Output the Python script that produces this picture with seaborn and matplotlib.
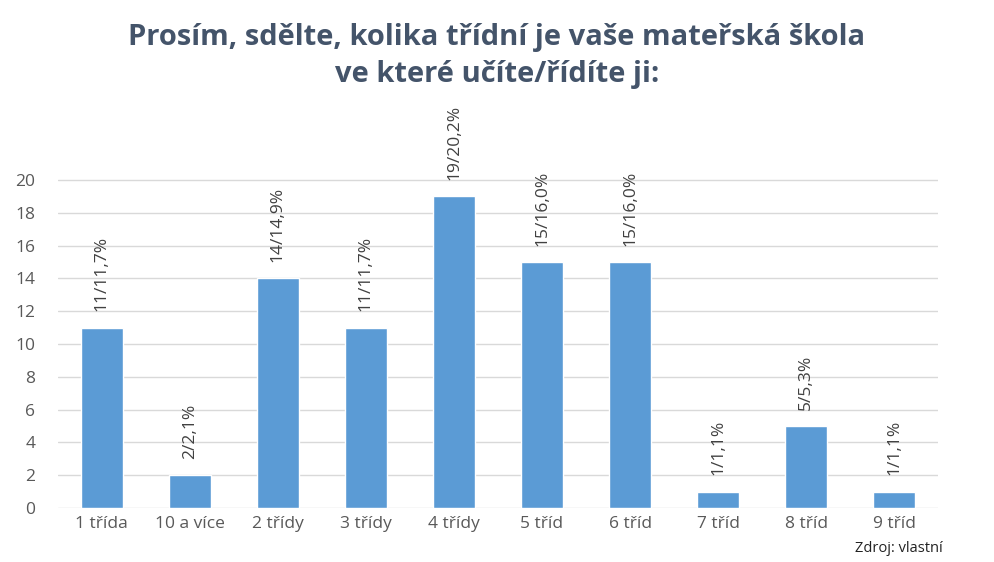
import matplotlib
matplotlib.use("Agg")
import matplotlib.pyplot as plt
import seaborn as sns
import pandas as pd

# data
categories = ["1 třída", "10 a více", "2 třídy", "3 třídy", "4 třídy",
              "5 tříd", "6 tříd", "7 tříd", "8 tříd", "9 tříd"]
counts = [11, 2, 14, 11, 19, 15, 15, 1, 5, 1]
labels = ["11/11,7%", "2/2,1%", "14/14,9%", "11/11,7%", "19/20,2%",
          "15/16,0%", "15/16,0%", "1/1,1%", "5/5,3%", "1/1,1%"]

df = pd.DataFrame({"kategorie": categories, "pocet": counts})

sns.set_style("white")
plt.rcParams["font.family"] = ["Open Sans", "DejaVu Sans"]

fig = plt.figure(figsize=(9.94, 5.62), dpi=100)
ax = fig.add_axes([0.058, 0.096, 0.886, 0.642])

sns.barplot(data=df, x="kategorie", y="pocet", color="#5B9BD5",
            width=0.48, saturation=1, ax=ax, zorder=3)

ax.set_ylim(0, 22)
ax.set_yticks(range(0, 21, 2))
ax.yaxis.grid(True, color="#D9D9D9", linewidth=1, zorder=0)
ax.set_axisbelow(True)
for s in ax.spines.values():
    s.set_visible(False)
ax.tick_params(axis="both", length=0, colors="#595959", labelsize=12.5)
ax.tick_params(axis="y", pad=16)
ax.tick_params(axis="x", pad=6)
ax.set_xlabel("")
ax.set_ylabel("")

# rotated value labels above each bar
for i, (v, t) in enumerate(zip(counts, labels)):
    ax.text(i, v + 1.0, t, rotation=90, ha="center", va="bottom",
            fontsize=12.5, color="#404040")

fig.text(0.5, 0.9, "Prosím, sdělte, kolika třídní je vaše mateřská škola\nve které učíte/řídíte ji:",
         ha="center", va="center", fontsize=21, fontweight="bold",
         color="#44546A", linespacing=1.35)

fig.text(0.86, 0.018, "Zdroj: vlastní", fontsize=10.5, color="#222222")

fig.savefig("out.png", dpi=100)
